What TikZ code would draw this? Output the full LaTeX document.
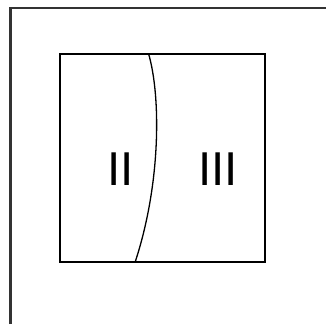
\documentclass[tikz,border=0pt]{standalone}
\usepackage{fontspec}
\setmainfont{Liberation Sans}
\begin{document}
\begin{tikzpicture}[x=1pt,y=1pt,
  outer/.style={line width=2.2pt,draw=black!80},
  inner/.style={line width=1.3pt,draw=black},
  lbl/.style={inner sep=0pt,anchor=base,font=\fontsize{47.5}{47.5}\selectfont}]
\useasboundingbox (0,0) rectangle (326,324);
\fill[white] (0,0) rectangle (326,324);
\draw[outer] (10.5,0) -- (10.5,316) -- (326,316);
\draw[inner] (60,62) rectangle (265,270);
\coordinate (ct) at (148.5,270.5);
\coordinate (cb) at (135,61.5);
\draw[inner] (ct) .. controls (161,228) and (161,140) .. (cb);
\node[lbl] (two) at (120.5,139) {II};
\node[lbl] (three) at (218,139) {III};
\end{tikzpicture}
\end{document}
